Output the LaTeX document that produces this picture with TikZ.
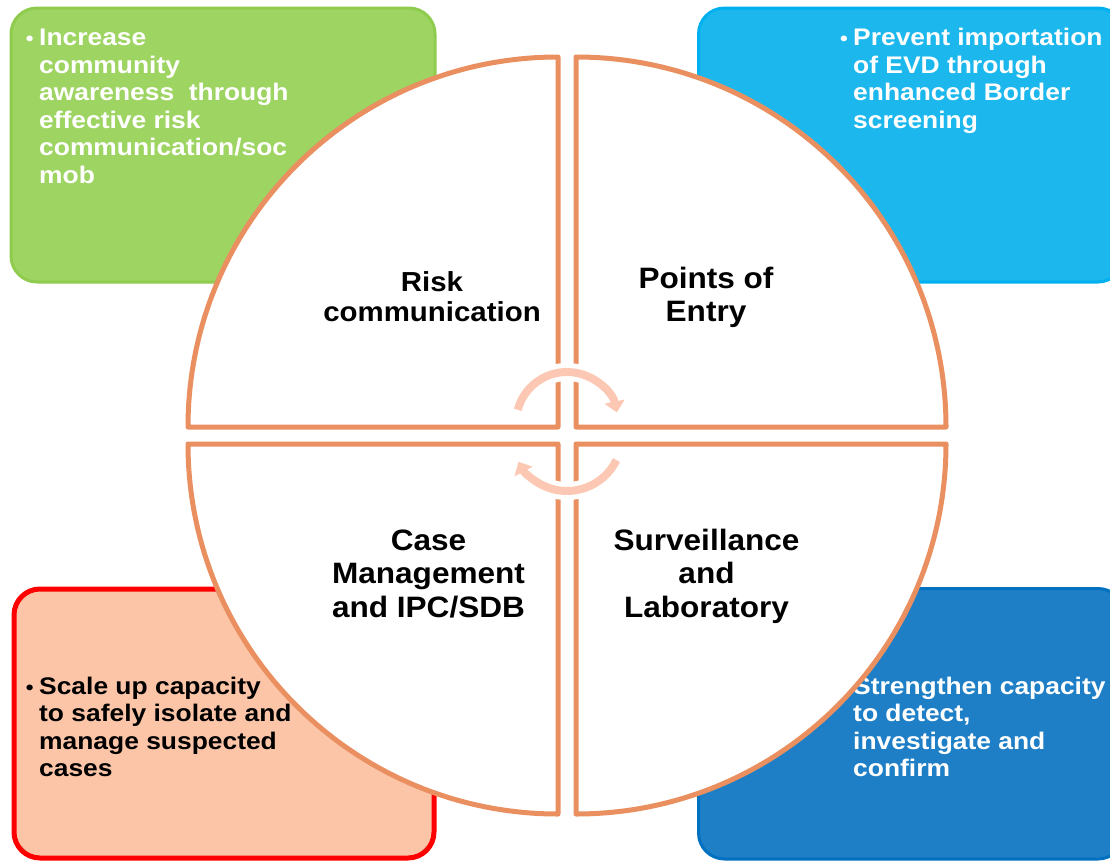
\documentclass[tikz,border=0pt]{standalone}
\usepackage{fontspec}
\setmainfont{Liberation Sans}[FakeStretch=1.07]
\newfontfamily\outfont{Liberation Sans}[FakeStretch=1.1]
\usetikzlibrary{arrows.meta}
\definecolor{gfill}{HTML}{9ED462}
\definecolor{gline}{HTML}{8FCC4E}
\definecolor{bfill}{HTML}{1CB7EC}
\definecolor{bline}{HTML}{00B0F0}
\definecolor{dfill}{HTML}{1E7FC6}
\definecolor{dline}{HTML}{0070C0}
\definecolor{pfill}{HTML}{FCC5A8}
\definecolor{qorange}{HTML}{E98F60}
\definecolor{apeach}{HTML}{FCC8B4}
\newcommand\bul{\leavevmode\llap{\raisebox{0pt}{\fontsize{20}{20}\selectfont •}\hspace{5.5pt}}}
\begin{document}
\begin{tikzpicture}[x=1pt,y=-1pt]
\tikzset{
  box/.style={rounded corners=26pt, line width=3pt},
  quad/.style={draw=qorange, fill=white, line width=5pt, line join=round},
  outtext/.style={anchor=base west, inner sep=0pt, font=\outfont\fontsize{24}{27.5}\selectfont\bfseries},
  qlabel/.style={anchor=base, inner sep=0pt, text=black},
  halo/.style={draw=white, line width=18pt},
  cyc/.style={draw=apeach, line width=8pt, -{Triangle[width=20pt,length=11pt]}},
}
\useasboundingbox (0,0) rectangle (1110,862);
\fill[white] (0,0) rectangle (1110,862);
% outer boxes
\draw[box, fill=gfill, draw=gline] (11,8) rectangle (435,282);
\draw[box, fill=bfill, draw=bline] (698.5,8) rectangle (1124,282);
\draw[box, fill=pfill, draw=red, line width=5pt] (14,589) rectangle (434,858);
\draw[box, fill=dfill, draw=dline] (698.5,588.5) rectangle (1124,859);
% outer texts
\node[outtext, text=white] (gt) at (39,45.5) {\parbox[t]{320pt}{\raggedright\bul Increase\\community\\awareness\ \ through\\effective risk\\communication/soc\\mob}};
\node[outtext, text=white] (bt) at (853,45.5) {\parbox[t]{320pt}{\raggedright\bul Prevent importation\\of EVD through\\enhanced Border\\screening}};
\node[outtext, text=black] (pt) at (39,694) {\parbox[t]{320pt}{\raggedright\bul Scale up capacity\\to safely isolate and\\manage suspected\\cases}};
\node[outtext, text=white] (dt) at (853,694) {\parbox[t]{320pt}{\raggedright\bul Strengthen capacity\\to detect,\\investigate and\\confirm}};
% quadrants
\draw[quad] (558,427) -- (188,427) arc[start angle=180, end angle=90, radius=370pt] -- cycle;
\draw[quad] (576,427) -- (576,57) arc[start angle=90, end angle=0, radius=370pt] -- cycle;
\draw[quad] (576,444) -- (946,444) arc[start angle=0, end angle=-90, radius=370pt] -- cycle;
\draw[quad] (558,444) -- (558,814) arc[start angle=-90, end angle=-180, radius=370pt] -- cycle;
% quadrant labels
\node[qlabel, font=\fontsize{27.5}{30}\selectfont\bfseries] (rc) at (432,291) {\parbox[t]{300pt}{\centering Risk\\communication}};
\node[qlabel, font=\fontsize{29.5}{33}\selectfont\bfseries] (pe) at (706,288) {\parbox[t]{300pt}{\centering Points of\\Entry}};
\node[qlabel, font=\fontsize{29.5}{33.5}\selectfont\bfseries] (cm) at (428.5,550) {\parbox[t]{300pt}{\centering Case\\Management\\and IPC/SDB}};
\node[qlabel, font=\fontsize{29.5}{33.5}\selectfont\bfseries] (sl) at (706.5,550) {\parbox[t]{300pt}{\centering Surveillance\\and\\Laboratory}};
% cycle arrows
\coordinate (tc) at (567,423);
\coordinate (bc) at (567,436);
\draw[halo] ([shift={(165:51pt)}]tc) arc[start angle=165, end angle=28, radius=51pt];
\draw[cyc] ([shift={(165:51pt)}]tc) arc[start angle=165, end angle=12, radius=51pt];
\draw[halo] ([shift={(-26:55pt)}]bc) arc[start angle=-26, end angle=-138, radius=55pt];
\draw[cyc] ([shift={(-26:55pt)}]bc) arc[start angle=-26, end angle=-152, radius=55pt];
\end{tikzpicture}
\end{document}
